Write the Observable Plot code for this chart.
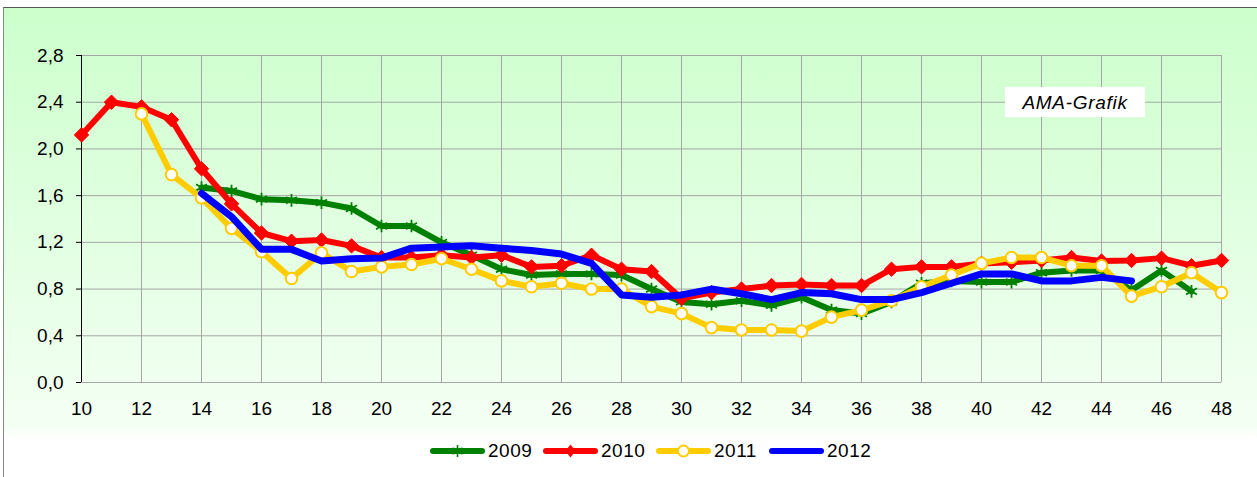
<!DOCTYPE html>
<html>
<head>
<meta charset="utf-8">
<script src="https://cdn.jsdelivr.net/npm/d3@7"></script>
<script src="https://cdn.jsdelivr.net/npm/@observablehq/plot@0.6"></script>
<style>
  html, body { margin: 0; padding: 0; background: #fff; }
  #page { position: relative; width: 1257px; height: 477px; overflow: hidden; font-family: "Liberation Sans", Arial, sans-serif; }
  #bg { position: absolute; left: 3px; top: 7px; width: 1260px; height: 475px;
        border-left: 1.5px solid #8a8a8a; border-top: 1.5px solid #555;
        background: linear-gradient(to bottom, #ccffcc 0%, #f4fff4 88%, #ffffff 91%, #ffffff 100%); }
  #chart { position: absolute; left: 0; top: 0; }
  #ama { position: absolute; left: 1005px; top: 87px; width: 140px; height: 30px; background: #fff;
         font-style: italic; font-size: 19px; letter-spacing: 0.7px; line-height: 31px; text-align: center; color: #000; }
  #legend { position: absolute; left: 430px; top: 440px; height: 22px; display: flex; align-items: center; }
  .item { display: flex; align-items: center; width: 113px; }
  .item span { font-size: 19px; letter-spacing: 0.5px; margin-left: 3px; color: #000; }
</style>
</head>
<body>
<div id="page">
  <div id="bg"></div>
  <div id="chart"></div>
  <div id="ama">AMA-Grafik</div>
  <div id="legend"></div>
</div>
<script>
const years = ["2009", "2010", "2011", "2012"];
const colors = ["#008000", "#ff0000", "#ffcc00", "#0000ff"];
const weeks2009 = [14,15,16,17,18,19,20,21,22,23,24,25,26,27,28,29,30,31,32,33,34,35,36,37,38,39,40,41,42,43,44,45,46,47];
const values2009 = [1.67,1.64,1.57,1.56,1.54,1.49,1.34,1.34,1.20,1.09,0.97,0.92,0.93,0.93,0.92,0.80,0.69,0.67,0.70,0.66,0.73,0.62,0.59,0.69,0.85,0.87,0.86,0.86,0.94,0.96,0.96,0.79,0.96,0.78];
const weeks2010 = [10,11,12,13,14,15,16,17,18,19,20,21,22,23,24,25,26,27,28,29,30,31,32,33,34,35,36,37,38,39,40,41,42,43,44,45,46,47,48];
const values2010 = [2.12,2.40,2.36,2.25,1.83,1.53,1.28,1.21,1.22,1.17,1.07,1.07,1.09,1.07,1.09,0.99,1.00,1.09,0.97,0.95,0.72,0.77,0.80,0.83,0.84,0.83,0.83,0.97,0.99,0.99,1.02,1.03,1.045,1.07,1.04,1.045,1.065,1.00,1.045];
const weeks2011 = [12,13,14,15,16,17,18,19,20,21,22,23,24,25,26,27,28,29,30,31,32,33,34,35,36,37,38,39,40,41,42,43,44,45,46,47,48];
const values2011 = [2.30,1.78,1.58,1.32,1.12,0.89,1.11,0.95,0.99,1.01,1.06,0.97,0.87,0.82,0.85,0.80,0.80,0.65,0.59,0.47,0.45,0.45,0.44,0.56,0.62,0.70,0.82,0.92,1.02,1.07,1.07,1.00,1.00,0.74,0.82,0.94,0.77];
const weeks2012 = [14,15,16,17,18,19,20,21,22,23,24,25,26,27,28,29,30,31,32,33,34,35,36,37,38,39,40,41,42,43,44,45];
const values2012 = [1.62,1.42,1.14,1.14,1.04,1.06,1.065,1.15,1.16,1.17,1.15,1.13,1.10,1.02,0.75,0.73,0.75,0.80,0.76,0.71,0.77,0.76,0.71,0.71,0.77,0.85,0.93,0.93,0.87,0.87,0.90,0.87];
const xTicks = [10,12,14,16,18,20,22,24,26,28,30,32,34,36,38,40,42,44,46,48];
const yTicks = [0,0.4,0.8,1.2,1.6,2.0,2.4,2.8];

const toRows = (weeks, vals, year) => weeks.map((w, i) => ({week: w, value: vals[i], year}));
const d2009 = toRows(weeks2009, values2009, "2009");
const d2010 = toRows(weeks2010, values2010, "2010");
const d2011 = toRows(weeks2011, values2011, "2011");
const d2012 = toRows(weeks2012, values2012, "2012");

const fmt = v => v.toFixed(1).replace(".", ",");
const lineOpts = (c, w) => ({x: "week", y: "value", stroke: c, strokeWidth: w, strokeLinejoin: "round", strokeLinecap: "round"});

const chart = Plot.plot({
  width: 1257,
  height: 425,
  marginLeft: 81,
  marginRight: 36,
  marginTop: 55,
  marginBottom: 43,
  style: {background: "transparent", fontFamily: "'Liberation Sans', Arial, sans-serif", fontSize: "19px", color: "#000", overflow: "visible"},
  x: {domain: [10, 48], label: null},
  y: {domain: [0, 2.8], label: null},
  marks: [
    Plot.gridY(yTicks, {stroke: "#a6a6a6", strokeOpacity: 1, strokeWidth: 1}),
    Plot.gridX(xTicks, {stroke: "#a6a6a6", strokeOpacity: 1, strokeWidth: 1}),
    Plot.ruleX([10], {stroke: "#000", strokeWidth: 1}),
    Plot.line(d2009, lineOpts(colors[0], 6)),
    Plot.dot(d2009, {x: "week", y: "value", symbol: "asterisk", r: 6, stroke: colors[0], strokeWidth: 1.8}),
    Plot.line(d2010, lineOpts(colors[1], 6)),
    Plot.dot(d2010, {x: "week", y: "value", symbol: "diamond2", r: 6.5, fill: colors[1], stroke: colors[1], strokeWidth: 1}),
    Plot.line(d2011, lineOpts(colors[2], 6)),
    Plot.dot(d2011, {x: "week", y: "value", symbol: "circle", r: 5.8, fill: "#fff", stroke: colors[2], strokeWidth: 2}),
    Plot.line(d2012, lineOpts(colors[3], 7)),
    Plot.axisY(yTicks, {tickFormat: fmt, tickSize: 5, tickPadding: 13, stroke: "#000", fontSize: 19, letterSpacing: "0.8px"}),
    Plot.axisX(xTicks, {tickFormat: d => String(d), tickSize: 0, tickPadding: 19, fontSize: 19, letterSpacing: "0.5px"})
  ]
});
document.getElementById("chart").appendChild(chart);

// legend
const legend = document.getElementById("legend");
const markerSvg = [
  `<line x1="27.5" y1="5" x2="27.5" y2="17" stroke="${colors[0]}" stroke-width="1.6"/><line x1="22.5" y1="8" x2="32.5" y2="14" stroke="${colors[0]}" stroke-width="1.6"/><line x1="22.5" y1="14" x2="32.5" y2="8" stroke="${colors[0]}" stroke-width="1.6"/>`,
  `<path d="M27.5 4.5 L32.5 11 L27.5 17.5 L22.5 11 Z" fill="${colors[1]}"/>`,
  `<circle cx="27.5" cy="11" r="5.5" fill="#fff" stroke="${colors[2]}" stroke-width="2"/>`,
  ``
];
years.forEach((y, i) => {
  const item = document.createElement("div");
  item.className = "item";
  item.innerHTML = `<svg width="55" height="22"><line x1="3" y1="11" x2="52" y2="11" stroke="${colors[i]}" stroke-width="6" stroke-linecap="round"/>${markerSvg[i]}</svg><span>${y}</span>`;
  legend.appendChild(item);
});
</script>
</body>
</html>
